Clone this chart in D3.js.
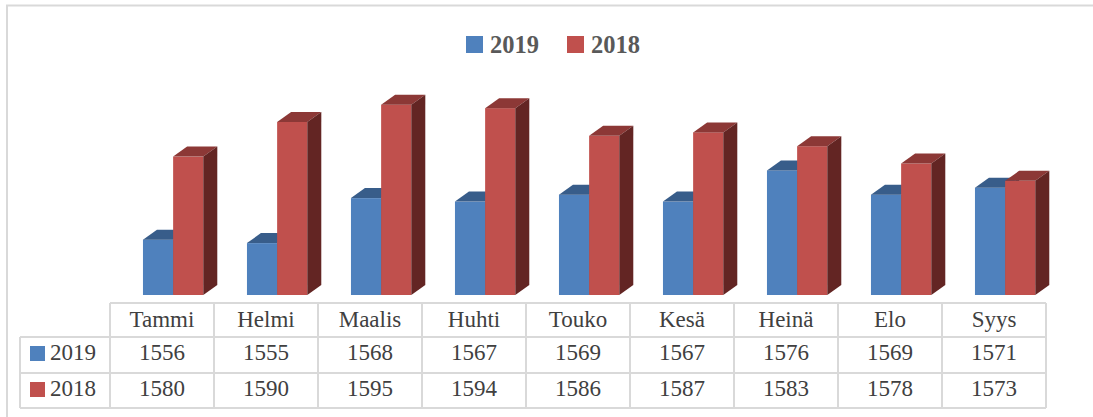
<!DOCTYPE html>
<html><head><meta charset="utf-8">
<script src="https://cdn.jsdelivr.net/npm/d3@7"></script>
<style>body{margin:0;background:#fff}svg{display:block}</style>
</head><body>
<svg id="c" width="1093" height="417"></svg>
<script>
const categories = ["Tammi","Helmi","Maalis","Huhti","Touko","Kesä","Heinä","Elo","Syys"];
const series = ["2019","2018"];
const values2019 = [1556,1555,1568,1567,1569,1567,1576,1569,1571];
const values2018 = [1580,1590,1595,1594,1586,1587,1583,1578,1573];
const seriesValues = [values2019, values2018];
const colors = {front:["#4F81BD","#C0504D"], top:["#385D8A","#8C3836"], side:["#2E4D73","#632523"]};

const svg = d3.select("#c");
const serif = "Liberation Serif";
const grid = "#d9d9d9";

// outer frame
svg.append("path").attr("d","M7,420 V5.5 H1100").attr("fill","none").attr("stroke",grid).attr("stroke-width",2);

const x = d3.scaleBand().domain(categories).range([110,1046]).padding(0);
const y = d3.scaleLinear().domain([1540,1600]).range([295,87.4]);
const bw = x.bandwidth();
const barW = bw*0.29, dx = 14, dy = 10;

const g = svg.append("g");
categories.forEach((c,i)=>{
  series.forEach((s,k)=>{
    const v = seriesValues[k][i];
    const x0 = x(c) + bw*0.317 + k*barW, x1 = x0 + barW;
    const yt = y(v), yb = y(1540);
    g.append("rect").attr("x",x0).attr("y",yt).attr("width",barW).attr("height",yb-yt).attr("fill",colors.front[k]);
    g.append("path").attr("d",`M${x0},${yt}L${x0+dx},${yt-dy}L${x1+dx},${yt-dy}L${x1},${yt}Z`).attr("fill",colors.top[k]);
    g.append("path").attr("d",`M${x1},${yt}L${x1+dx},${yt-dy}L${x1+dx},${yb-dy}L${x1},${yb}Z`).attr("fill",colors.side[k]);
  });
});

// legend
const legend = [{s:"2019",x:466},{s:"2018",x:567}];
legend.forEach((d,k)=>{
  svg.append("rect").attr("x",d.x).attr("y",36).attr("width",17).attr("height",17).attr("fill",colors.front[k]);
  svg.append("text").attr("x",d.x+24).attr("y",52.5).text(d.s)
    .attr("font-family",serif).attr("font-weight","bold").attr("font-size",24.5).attr("fill","#595959");
});

// data table
const tTop=303, r1=337, r2=373, tBot=408, left=20, right=1046;
const lines = svg.append("g").attr("stroke",grid).attr("stroke-width",2).attr("fill","none");
lines.append("path").attr("d",`M110,${tTop}H${right}M${left},${r1}H${right}M${left},${r2}H${right}M${left},${tBot}H${right}`);
lines.append("path").attr("d",`M${left},${r1}V${tBot}M110,${tTop}V${tBot}`);
categories.forEach(c=>{
  lines.append("path").attr("d",`M${x(c)+bw},${tTop}V${tBot}`);
});
function cell(px,py,t,anchor){
  svg.append("text").attr("x",px).attr("y",py).attr("text-anchor",anchor)
    .attr("font-family",serif).attr("font-size",23).attr("fill","#404040").text(t);
}
categories.forEach((c,i)=>{
  const cx = x(c)+bw/2;
  cell(cx,327,c,"middle");
  cell(cx,359.5,values2019[i],"middle");
  cell(cx,395.5,values2018[i],"middle");
});
series.forEach((s,k)=>{
  const yy = k===0?359.5:395.5;
  svg.append("rect").attr("x",30).attr("y",yy-13.5).attr("width",15).attr("height",15).attr("fill",colors.front[k]);
  cell(50,yy,s,"start");
});
</script>
</body></html>
